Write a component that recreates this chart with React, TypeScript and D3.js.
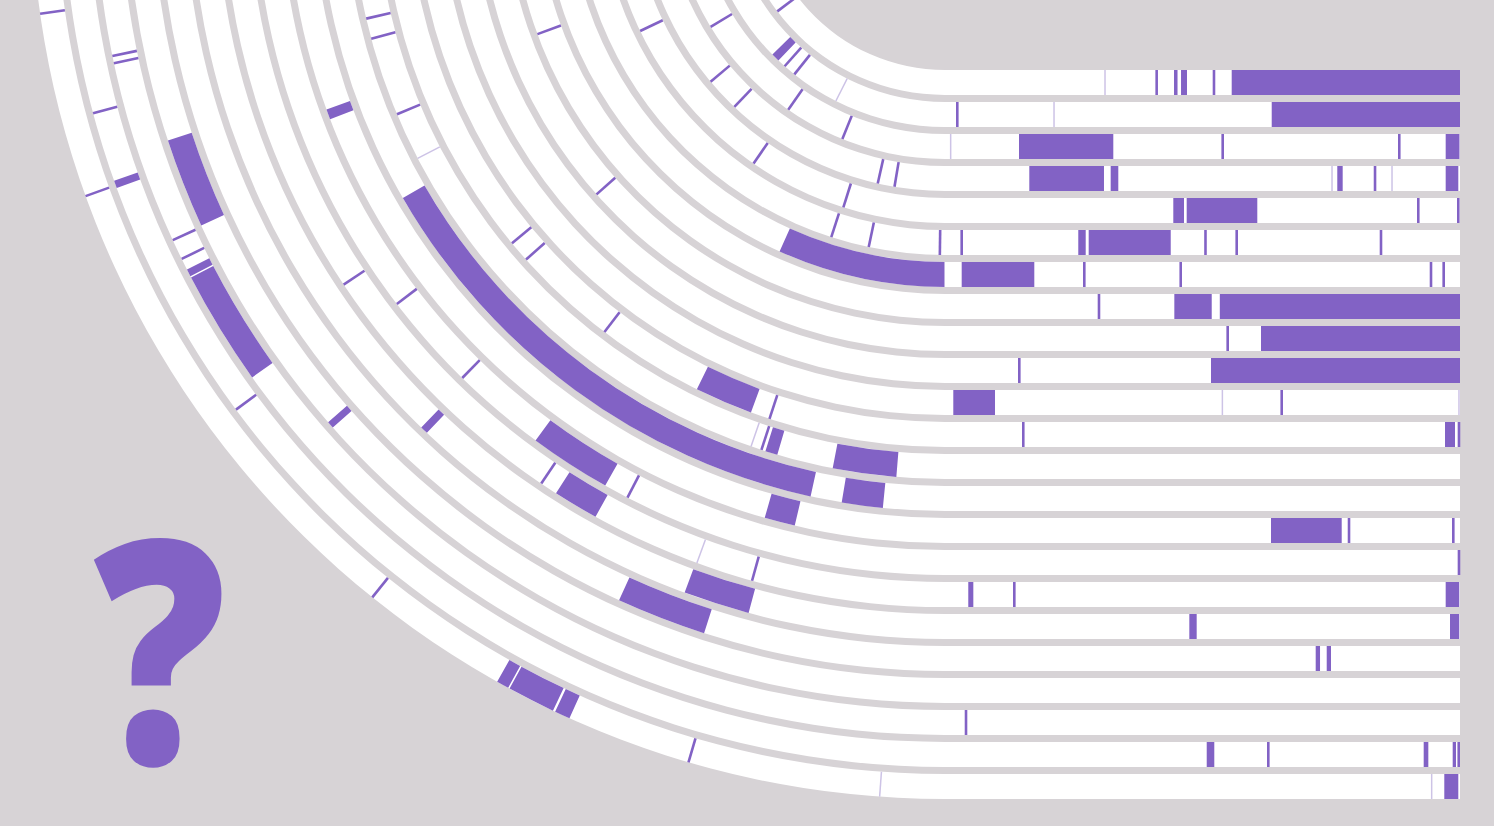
import * as d3 from "d3";
import { useEffect, useRef } from "react";

// position along a lane: -90..0 = degrees round the bend (0 = bottom of the arc),
// 0..100 = share of the straight run on the right
const trackIds = d3.range(23);

const trackBlocks: [number, number][][] = [
  [[44.47, 45.15], [45.83, 46.99], [55.67, 100]],
  [[-45.5, -43.5], [63.44, 100]],
  [[14.37, 32.68], [97.22, 99.9]],
  [[16.37, 30.87], [32.17, 33.65], [76.17, 77.22], [97.22, 99.67]],
  [[44.33, 46.41], [46.93, 60.64]],
  [[25.88, 27.32], [27.9, 43.83]],
  [[-24.3, 0], [3.24, 17.34]],
  [[44.53, 51.79], [53.36, 100]],
  [[61.36, 100]],
  [[51.65, 100]],
  [[1.61, 9.71]],
  [[-26.2, -20.2], [97.09, 99.03]],
  [[-17.6, -16.4], [-10.9, -4.7]],
  [[-60, -12.4], [-9.5, -5.7]],
  [[-70.05, -69.15], [-15.9, -13.2], [63.3, 77.03]],
  [[-36.4, -29.5]],
  [[-32.6, -28.95], [4.52, 5.5], [97.22, 99.86]],
  [[-44, -43.4], [-20.2, -15.1], [47.44, 48.87], [98.06, 99.86]],
  [[-24.5, -17.85], [71.98, 72.82], [74.12, 74.95]],
  [[-71.8, -65.4], [-48.95, -48.45]],
  [[-63.1, -62.6], [-62.5, -54.6]],
  [[-70.4, -69.9], [50.82, 52.29], [92.95, 93.85], [98.58, 99.22]],
  [[-29.34, -28.55], [-28.45, -25.4], [-25.25, -24.26], [96.95, 99.67]],
];

const trackTicks: number[][] = [
  [-53, 41.1, 52.23],
  [-41.5, -38.5, 2.39],
  [-58.8, -34.9, -22, 53.92, 88.21],
  [-50, -43.5, -12.7, -9.5, 83.5],
  [-64.4, -34.5, -17.5, 91.9, 99.67],
  [-17.9, -11.9, -0.8, 3.24, 50.58, 56.64, 84.66],
  [27.05, 45.77, 94.37, 96.83],
  [-69.9, 29.9],
  [-48.4, 54.89],
  [14.43],
  [65.38],
  [-50.4, -48.2, -37.3, -18.2, 15.2, 99.8],
  [-77, -75, -67.3, -18.0],
  [],
  [78.45, 98.7],
  [-52.6, -44.4, -27.4, 99.8],
  [-56.4, -34.0, -15.5, 13.46],
  [],
  [],
  [],
  [-78.4, -77.9, -65.3, -63.9, 4.08],
  [-75, -53.5, 62.78, 99.75],
  [-81.9, -70.1, -38.8, -16.3],
];

const trackFaint: number[][] = [
  [31.07],
  [-26.8, 21.17],
  [1.1],
  [75.15, 86.8],
  [], [], [], [], [], [],
  [53.86, 99.8],
  [],
  [-62.6, -19.06],
  [], [], [],
  [-20.1],
  [], [], [], [], [],
  [-4.1, 94.5],
];

const W = 1494;
const H = 826;
const BG = "#d7d3d6";
const PURPLE = "#8262c5";
const FAINT = "#cdc3e6";

export default function App() {
  const ref = useRef<SVGSVGElement | null>(null);

  useEffect(() => {
    const cx = 945;
    const cy = -115;
    const xEnd = 1460;

    const svg = d3.select(ref.current);
    svg.selectAll("*").remove();

    svg.append("rect").attr("width", W).attr("height", H).attr("fill", BG);

    const yBand = d3.scaleBand<number>()
      .domain(trackIds)
      .range([70, 799])
      .paddingInner(7 / 32)
      .paddingOuter(0);
    const bw = yBand.bandwidth();

    const x = d3.scaleLinear().domain([0, 100]).range([cx, xEnd]);
    const phi = d3.scaleLinear().domain([-90, 0]).range([1.5 * Math.PI, Math.PI]);

    const arcG = svg.append("g").attr("transform", `translate(${cx},${cy})`);
    const lineG = svg.append("g");
    const arc = d3.arc<any>();

    const inner = (i: number) => (yBand(i) as number) - cy;

    // white lanes
    trackIds.forEach(i => {
      arcG.append("path")
        .attr("d", arc({ innerRadius: inner(i), outerRadius: inner(i) + bw, startAngle: Math.PI, endAngle: phi(-95) }))
        .attr("fill", "#fff");
      lineG.append("rect")
        .attr("x", cx - 0.5)
        .attr("y", yBand(i) as number)
        .attr("width", xEnd - cx + 0.5)
        .attr("height", bw)
        .attr("fill", "#fff");
    });

    const span = (i: number, a: number, b: number) => {
      if (a < 0) {
        arcG.append("path")
          .attr("d", arc({
            innerRadius: inner(i),
            outerRadius: inner(i) + bw,
            startAngle: phi(Math.min(b, 0)),
            endAngle: phi(a),
          }))
          .attr("fill", PURPLE);
      }
      if (b > 0) {
        const x0 = x(Math.max(a, 0));
        lineG.append("rect")
          .attr("x", x0)
          .attr("y", yBand(i) as number)
          .attr("width", x(b) - x0)
          .attr("height", bw)
          .attr("fill", PURPLE);
      }
    };

    const tick = (i: number, t: number, color: string, sw: number) => {
      if (t < 0) {
        const p = phi(t);
        const r0 = inner(i);
        const r1 = r0 + bw;
        arcG.append("line")
          .attr("x1", r0 * Math.sin(p))
          .attr("y1", -r0 * Math.cos(p))
          .attr("x2", r1 * Math.sin(p))
          .attr("y2", -r1 * Math.cos(p))
          .attr("stroke", color)
          .attr("stroke-width", sw);
      } else {
        lineG.append("line")
          .attr("x1", x(t))
          .attr("x2", x(t))
          .attr("y1", yBand(i) as number)
          .attr("y2", (yBand(i) as number) + bw)
          .attr("stroke", color)
          .attr("stroke-width", sw);
      }
    };

    trackIds.forEach(i => {
      trackFaint[i].forEach(t => tick(i, t, FAINT, 1.5));
      trackBlocks[i].forEach(([a, b]) => span(i, a, b));
      trackTicks[i].forEach(t => tick(i, t, PURPLE, 2.6));
    });

    // big question mark, narrowed to the reference's proportions
    svg.append("text")
      .attr("transform", "translate(160,764) scale(0.84,1)")
      .attr("text-anchor", "middle")
      .attr("font-family", "'Open Sans', sans-serif")
      .attr("font-weight", 800)
      .attr("font-size", 312)
      .attr("fill", PURPLE)
      .text("?");
  }, []);

  return (
    <svg
      ref={ref}
      width={W}
      height={H}
      style={{ position: "fixed", left: 0, top: 0, display: "block" }}
    />
  );
}
